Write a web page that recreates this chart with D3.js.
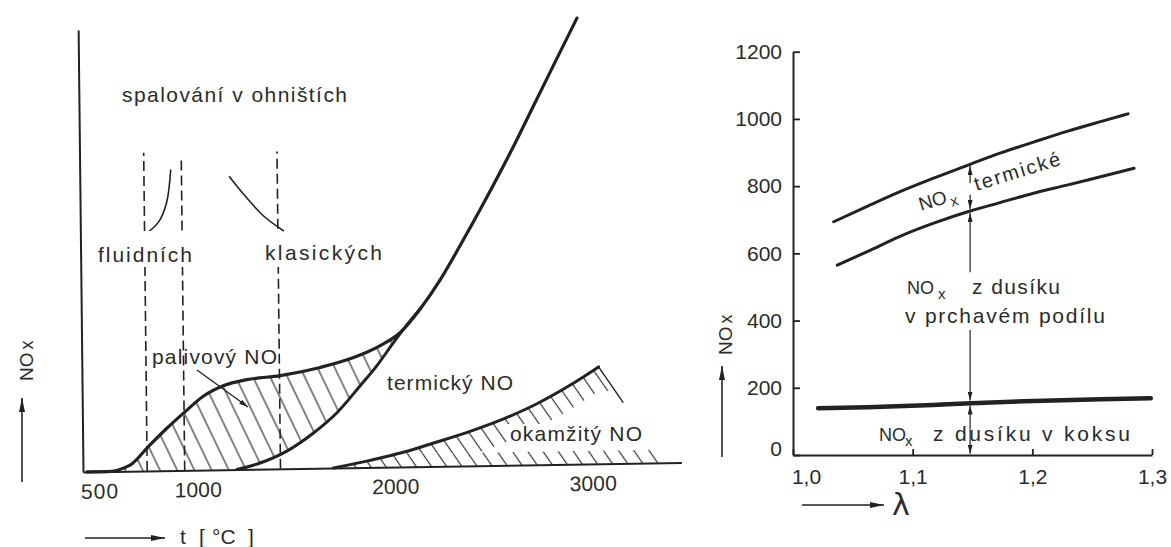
<!DOCTYPE html>
<html><head><meta charset="utf-8">
<script src="https://cdn.jsdelivr.net/npm/d3@7/dist/d3.min.js"></script>
<style>
html,body{margin:0;padding:0;background:#fff;overflow:hidden}
svg{display:block}
text{font-family:"Liberation Sans",Arial,sans-serif;fill:#2b2b2b}
</style></head><body>
<svg id="chart" width="1171" height="547"></svg>
<script>
// ---------- LEFT CHART DATA (t in °C, NOx in relative units) ----------
const tTickValues = [500, 1000, 2000, 3000];
const upperT = [440, 540, 659, 752, 847, 941, 1033, 1135, 1255, 1424, 1627, 1796, 1932, 2034, 2137, 2238, 2341, 2470, 2600, 2729, 2843, 2946];
const upperN = [0, 0, 1.4, 5.5, 9.6, 13.3, 16.7, 19.0, 20.3, 21.1, 22.8, 24.9, 27.5, 30.4, 35.7, 42.1, 49.8, 59.9, 70.6, 81.9, 91.9, 100.9];
const thermalT = [1199, 1317, 1453, 1589, 1709, 1828, 1914, 2000, 2052, 2137];
const thermalN = [0, 1.4, 4.0, 8.0, 12.5, 18.5, 23.0, 28.2, 31.2, 35.7];
const promptT = [1688, 1874, 2043, 2213, 2382, 2552, 2722, 2892, 3036];
const promptN = [0, 1.6, 3.3, 5.5, 7.8, 10.5, 13.8, 17.9, 21.9];
const zoneT = [745, 935, 1420];
const zoneTopN = [72.0, 70.3, 71.8];
const fluidT = [745, 817, 858, 881];
const fluidN = [53.4, 56.3, 60.6, 68.1];
const classicT = [1176, 1250, 1350, 1450];
const classicN = [66.4, 62.2, 57.2, 53.8];

// ---------- RIGHT CHART DATA (lambda, NOx) ----------
const lambdaTicks = [1.0, 1.1, 1.2, 1.3];
const noxTicks = [0, 200, 400, 600, 800, 1000, 1200];
const totalL = [1.034, 1.062, 1.089, 1.117, 1.148, 1.173, 1.201, 1.229, 1.257, 1.280];
const totalN = [694, 740, 783, 823, 865, 898, 931, 963, 992, 1015];
const volatileL = [1.037, 1.062, 1.089, 1.117, 1.148, 1.173, 1.201, 1.229, 1.257, 1.285];
const volatileN = [565, 605, 650, 689, 726, 751, 779, 803, 828, 853];
const cokeL = [1.021, 1.062, 1.117, 1.149, 1.201, 1.257, 1.299];
const cokeN = [139, 142, 149, 154, 161, 166, 169];
const arrowLambda = 1.148;
const arrowFrom = [75, 75, 372, 544, 774, 809];
const arrowTo = [147, 4, 162, 720, 732, 860];

// ---------- SETUP ----------
const INK = '#222';
const svg = d3.select('#chart');
const defs = svg.append('defs');
const zip = (a, b) => a.map((v, i) => [v, b[i]]);

function hatch(id, angle, gap) {
  const p = defs.append('pattern').attr('id', id).attr('patternUnits', 'userSpaceOnUse')
    .attr('width', gap).attr('height', gap).attr('patternTransform', `rotate(${angle})`);
  p.append('line').attr('x1', gap / 2).attr('y1', -1).attr('x2', gap / 2).attr('y2', gap + 1)
    .attr('stroke', '#333').attr('stroke-width', 1.2);
}
hatch('hatchA', -25, 15.5);
hatch('hatchB', -34, 12.5);

function marker(id, len, wid) {
  defs.append('marker').attr('id', id).attr('viewBox', `0 0 ${len} ${wid}`)
    .attr('refX', len).attr('refY', wid / 2).attr('markerWidth', len).attr('markerHeight', wid)
    .attr('markerUnits', 'userSpaceOnUse').attr('orient', 'auto')
    .append('path').attr('d', `M0,0L${len},${wid / 2}L0,${wid}Z`).attr('fill', INK);
}
marker('ahBig', 14, 6);
marker('ahSmall', 9, 5);

function sample(node, step) {
  const len = node.getTotalLength();
  const n = Math.ceil(len / step);
  return d3.range(n + 1).map(i => { const p = node.getPointAtLength(len * i / n); return [p.x, p.y]; });
}
const poly = pts => 'M' + pts.map(p => p[0].toFixed(2) + ',' + p[1].toFixed(2)).join('L') + 'Z';

function arrow(g, x1, y1, x2, y2, mk, w) {
  return g.append('line').attr('x1', x1).attr('y1', y1).attr('x2', x2).attr('y2', y2)
    .attr('stroke', INK).attr('stroke-width', w || 1.3).attr('marker-end', `url(#${mk})`);
}
function label(g, x, y, str, len, size) {
  const t = g.append('text').attr('x', x).attr('y', y).attr('font-size', size || 21).text(str);
  if (len) t.attr('textLength', len).attr('lengthAdjust', 'spacing');
  return t;
}

// ---------- LEFT CHART ----------
const xL = d3.scaleLinear().domain([420, 3450]).range([83, 681.4]);
const yL = d3.scaleLinear().domain([0, 100]).range([472, 30]);
const lineL = d3.line().x(d => xL(d[0])).y(d => yL(d[1])).curve(d3.curveMonotoneX);
const lineLc = d3.line().x(d => xL(d[0])).y(d => yL(d[1])).curve(d3.curveCatmullRom);

// the scanned figure is slightly skewed: reproduce that tilt
const left = svg.append('g').attr('transform', 'translate(84,472) matrix(1,-0.016,0.011,1,0,0) translate(-84,-472)');
const gHatch = left.append('g'), gDash = left.append('g'), gCurve = left.append('g'), gAxis = left.append('g');

const upperPath = gCurve.append('path').attr('d', lineL(zip(upperT, upperN)))
  .attr('fill', 'none').attr('stroke', INK).attr('stroke-width', 3.2).attr('stroke-linecap', 'round');
const thermalPath = gCurve.append('path').attr('d', lineL(zip(thermalT, thermalN)))
  .attr('fill', 'none').attr('stroke', INK).attr('stroke-width', 3).attr('stroke-linecap', 'round');
const promptPath = gCurve.append('path').attr('d', lineL(zip(promptT, promptN)))
  .attr('fill', 'none').attr('stroke', INK).attr('stroke-width', 3).attr('stroke-linecap', 'round');

// fuel NO hatched region
const joinX = xL(thermalT[thermalT.length - 1]);
const upPts = sample(upperPath.node(), 1).filter(p => p[0] <= joinX + 0.5);
const thPts = sample(thermalPath.node(), 1).reverse();
gHatch.append('path').attr('d', poly(upPts.concat(thPts))).attr('fill', 'url(#hatchA)');

// prompt NO hatched band
const prPts = sample(promptPath.node(), 1);
const axisY = yL(0);
const tanB = Math.tan(34 * Math.PI / 180);
const end = prPts[prPts.length - 1];
const xb = y => end[0] + (y - end[1]) * tanB;
gHatch.append('path').attr('d', poly(prPts.concat([[xb(axisY), axisY]]))).attr('fill', 'url(#hatchB)');
const inset = prPts.map(p => [p[0], Math.min(p[1] + 24, axisY - 13)]);
inset.push([xb(end[1] + 24) + 1, end[1] + 24], [xb(axisY - 13) + 1, axisY - 13], [prPts[0][0], axisY - 13]);
gHatch.append('path').attr('d', poly(inset)).attr('fill', '#fff');
gCurve.append('line').attr('x1', end[0]).attr('y1', end[1]).attr('x2', xb(end[1] + 36)).attr('y2', end[1] + 36)
  .attr('stroke', INK).attr('stroke-width', 1.4);

// combustion zone dashed lines and sketch curves
zoneT.forEach((t, i) => gDash.append('line')
  .attr('x1', xL(t)).attr('x2', xL(t)).attr('y1', yL(0)).attr('y2', yL(zoneTopN[i]))
  .attr('stroke', INK).attr('stroke-width', 1.6).attr('stroke-dasharray', '10,5'));
[[fluidT, fluidN], [classicT, classicN]].forEach(([a, b]) => gDash.append('path')
  .attr('d', lineLc(zip(a, b))).attr('fill', 'none').attr('stroke', INK).attr('stroke-width', 1.6));

// axes
const axB = gAxis.append('g').attr('transform', `translate(0,${axisY})`)
  .call(d3.axisBottom(xL).tickValues(tTickValues).tickSize(0).tickSizeOuter(0).tickPadding(12).tickFormat(d3.format('d')));
const axLft = gAxis.append('g').attr('transform', `translate(${xL(420)},0)`)
  .call(d3.axisLeft(yL).tickValues([]).tickSizeOuter(0));
[axB, axLft].forEach(a => { a.attr('font-size', 21); a.select('.domain').attr('stroke', INK).attr('stroke-width', 2); });
axB.selectAll('text').attr('textLength', d => d >= 1000 ? 47 : 37).attr('lengthAdjust', 'spacing');

// left annotations
const annL = svg.append('g');
label(annL, 122, 102, 'spalování v ohništích', 225);
annL.append('rect').attr('x', 96).attr('y', 231).attr('width', 99).attr('height', 36).attr('fill', '#fff');
label(annL, 98, 262, 'fluidních', 94);
annL.append('rect').attr('x', 262).attr('y', 233).attr('width', 124).attr('height', 34).attr('fill', '#fff');
label(annL, 265, 260, 'klasických', 117);
label(annL, 152, 364, 'palivový NO', 125);
arrow(annL, 197, 370, 248, 407, 'ahSmall', 1.3);
label(annL, 387, 390, 'termický NO', 126);
annL.append('rect').attr('x', 507).attr('y', 424).attr('width', 138).attr('height', 21).attr('fill', '#fff');
label(annL, 510, 441, 'okamžitý NO', 132);
// axis titles
const yt = annL.append('text').attr('transform', 'translate(33,381) rotate(-90)').attr('font-size', 19);
yt.append('tspan').text('NO');
yt.append('tspan').attr('dx', 3).attr('font-size', 18).text('x');
arrow(annL, 22, 482, 22, 398, 'ahBig', 1.6);
arrow(annL, 85, 538, 165, 538, 'ahBig', 1.6);
const tt = annL.append('text').attr('y', 544).attr('font-size', 21);
tt.append('tspan').attr('x', 180).text('t');
tt.append('tspan').attr('x', 199).text('[');
tt.append('tspan').attr('x', 212).text('°C');
tt.append('tspan').attr('x', 248).text(']');

// ---------- RIGHT CHART ----------
const xR = d3.scaleLinear().domain([1.0, 1.3]).range([793, 1152]);
const yR = d3.scaleLinear().domain([0, 1200]).range([455, 51.7]);
const lineR = d3.line().x(d => xR(d[0])).y(d => yR(d[1])).curve(d3.curveMonotoneX);
const right = svg.append('g');

const axRx = right.append('g').attr('transform', `translate(0,${yR(0)})`)
  .call(d3.axisBottom(xR).tickValues(lambdaTicks).tickSize(-6).tickSizeOuter(0).tickPadding(14)
    .tickFormat(d => d.toFixed(1).replace('.', ',')));
const axRy = right.append('g').attr('transform', `translate(${xR(1.0)},0)`)
  .call(d3.axisLeft(yR).tickValues(noxTicks).tickSize(-7).tickSizeOuter(0).tickPadding(11).tickFormat(d3.format('d')));
[axRx, axRy].forEach(a => {
  a.attr('font-size', 21);
  a.select('.domain').attr('stroke', INK).attr('stroke-width', 2);
  a.selectAll('.tick line').attr('stroke', INK).attr('stroke-width', 1.8);
});
axRx.selectAll('.tick text').filter(d => d === 1.0).attr('dx', 13);
axRy.selectAll('.tick text').filter(d => d === 0).attr('dy', '0.02em');

[[totalL, totalN, 3], [volatileL, volatileN, 3], [cokeL, cokeN, 4.5]].forEach(([a, b, w]) =>
  right.append('path').attr('d', lineR(zip(a, b))).attr('fill', 'none').attr('stroke', INK)
    .attr('stroke-width', w).attr('stroke-linecap', 'round'));

arrowFrom.forEach((f, i) => arrow(right, xR(arrowLambda), yR(f), xR(arrowLambda), yR(arrowTo[i]), 'ahSmall', 1.2));

// right annotations
const tr = right.append('g').attr('transform', 'translate(921,211) rotate(-17)');
tr.append('text').attr('x', 0).attr('y', 0).attr('font-size', 19).text('NO');
tr.append('text').attr('x', 31).attr('y', 5).attr('font-size', 15).text('x');
tr.append('text').attr('x', 59).attr('y', -3).attr('font-size', 20).attr('textLength', 89).attr('lengthAdjust', 'spacing').text('termické');

label(right, 907, 294, 'NO', null, 18);
label(right, 938, 299, 'x', null, 15);
label(right, 972, 294, 'z dusíku', 88);
label(right, 905, 323, 'v prchavém podílu', 200);
label(right, 879, 441, 'NO', null, 18);
label(right, 905, 446, 'x', null, 15);
label(right, 933, 441, 'z dusíku v koksu', 197);

const yr = right.append('text').attr('transform', 'translate(732,355) rotate(-90)').attr('font-size', 19);
yr.append('tspan').text('NO');
yr.append('tspan').attr('dx', 3).attr('font-size', 18).text('x');
arrow(right, 722, 457, 722, 366, 'ahBig', 1.6);
arrow(right, 802, 505, 884, 505, 'ahBig', 1.6);
right.append('text').attr('x', 892).attr('y', 515).attr('font-size', 30)
  .style('font-family', '"DejaVu Sans", sans-serif').text('λ');
</script>
</body></html>
